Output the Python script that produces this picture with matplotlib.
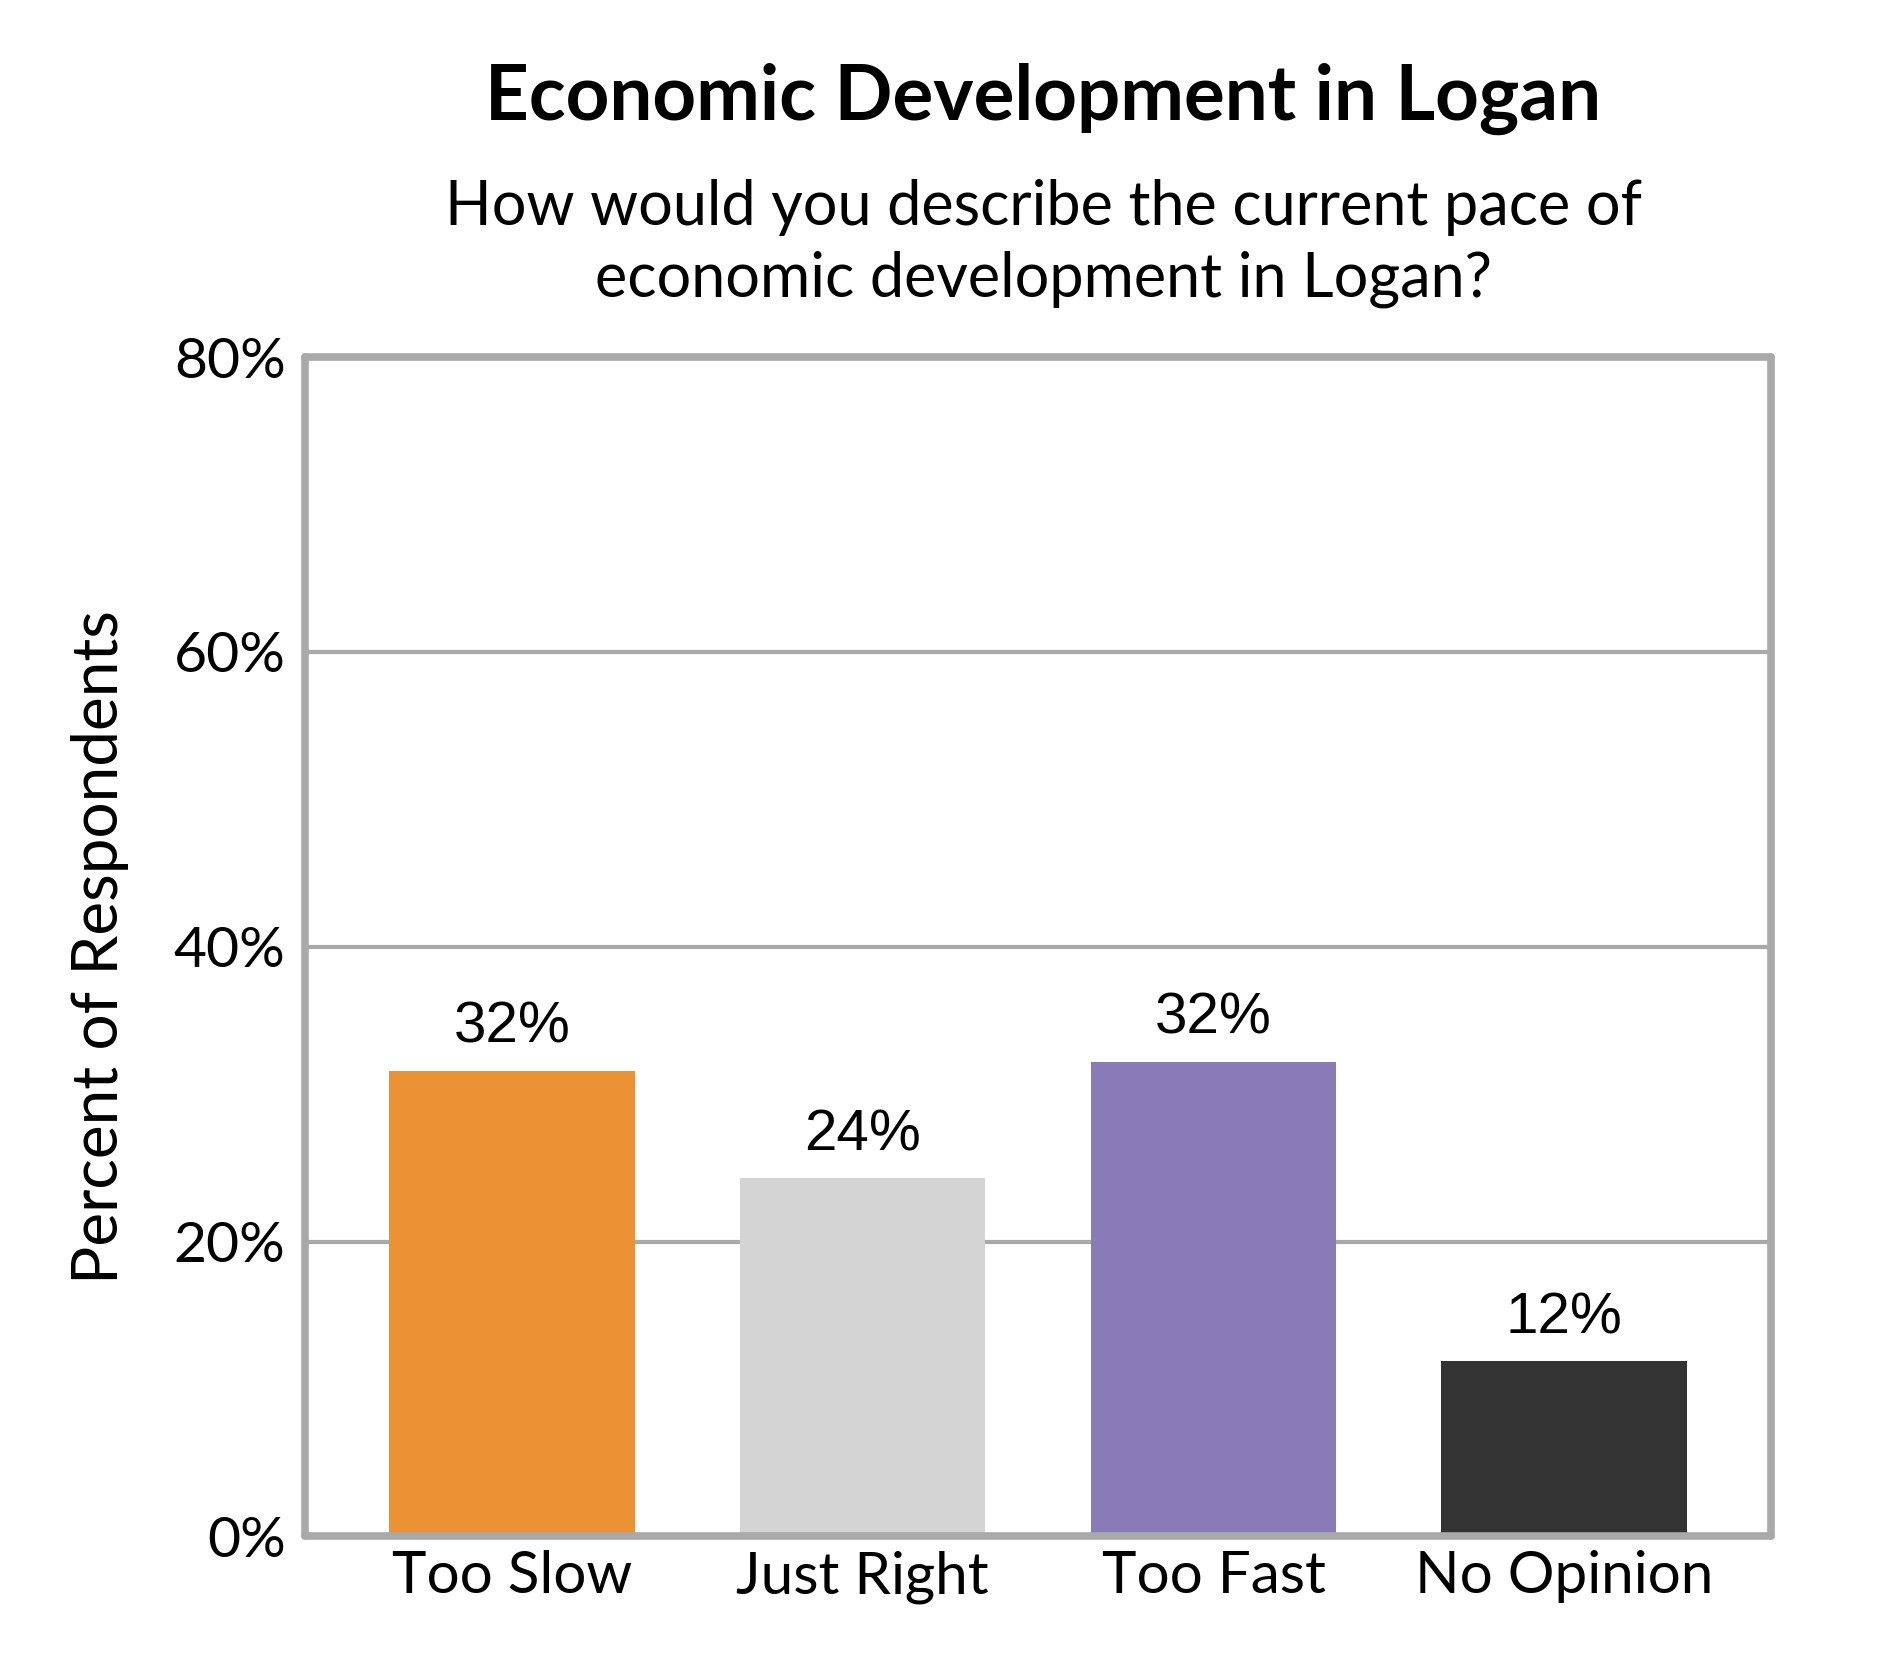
import matplotlib
matplotlib.use('Agg')
import matplotlib.pyplot as plt
import numpy as np

# data
categories = ['Too Slow', 'Just Right', 'Too Fast', 'No Opinion']
values = [31.6, 24.3, 32.2, 11.9]
value_labels = ['32%', '24%', '32%', '12%']
bar_colors = ['#EB9234', '#D4D4D4', '#897BB5', '#333333']
yticks = [0, 20, 40, 60, 80]

frame_col = '#A9A9A9'
main_font = 'Lato'

fig = plt.figure(figsize=(18.9, 16.8), dpi=100)
ax = fig.add_axes([0.1614, 0.0855, 0.7757, 0.702])

x = np.arange(len(categories))
ax.bar(x, values, width=0.70, color=bar_colors, zorder=2)

ax.set_xlim(-0.59, len(categories) - 1 + 0.59)
ax.set_ylim(0, 80)
ax.set_yticks(yticks)
ax.set_yticklabels([f'{t}%' for t in yticks], fontsize=41, family=main_font)
ax.set_xticks(x)
ax.set_xticklabels(categories, fontsize=42, family=main_font)
ax.tick_params(axis='y', length=0, pad=14)
ax.tick_params(axis='x', length=0, pad=10)

# gridlines
for t in yticks[1:-1]:
    ax.axhline(t, color=frame_col, lw=3, zorder=1)

for side in ['left', 'right', 'top', 'bottom']:
    ax.spines[side].set_color(frame_col)
    ax.spines[side].set_linewidth(5.5)
    ax.spines[side].set_capstyle('round')
    ax.spines[side].set_joinstyle('round')
ax.spines['bottom'].set_zorder(3)

for xi, v, lab in zip(x, values, value_labels):
    ax.annotate(lab, (xi, v), xytext=(0, 20), textcoords='offset points',
                ha='center', va='baseline', fontsize=42, family='Liberation Sans')

ax.set_ylabel('Percent of Respondents', fontsize=46, family=main_font, labelpad=32)

fig.text(0.552, 0.941, 'Economic Development in Logan', ha='center', va='center',
         fontsize=55, fontweight='bold', family=main_font)
fig.text(0.552, 0.855, 'How would you describe the current pace of\neconomic development in Logan?',
         ha='center', va='center', fontsize=44, family=main_font, linespacing=1.3)

fig.savefig('out.png', dpi=100)
